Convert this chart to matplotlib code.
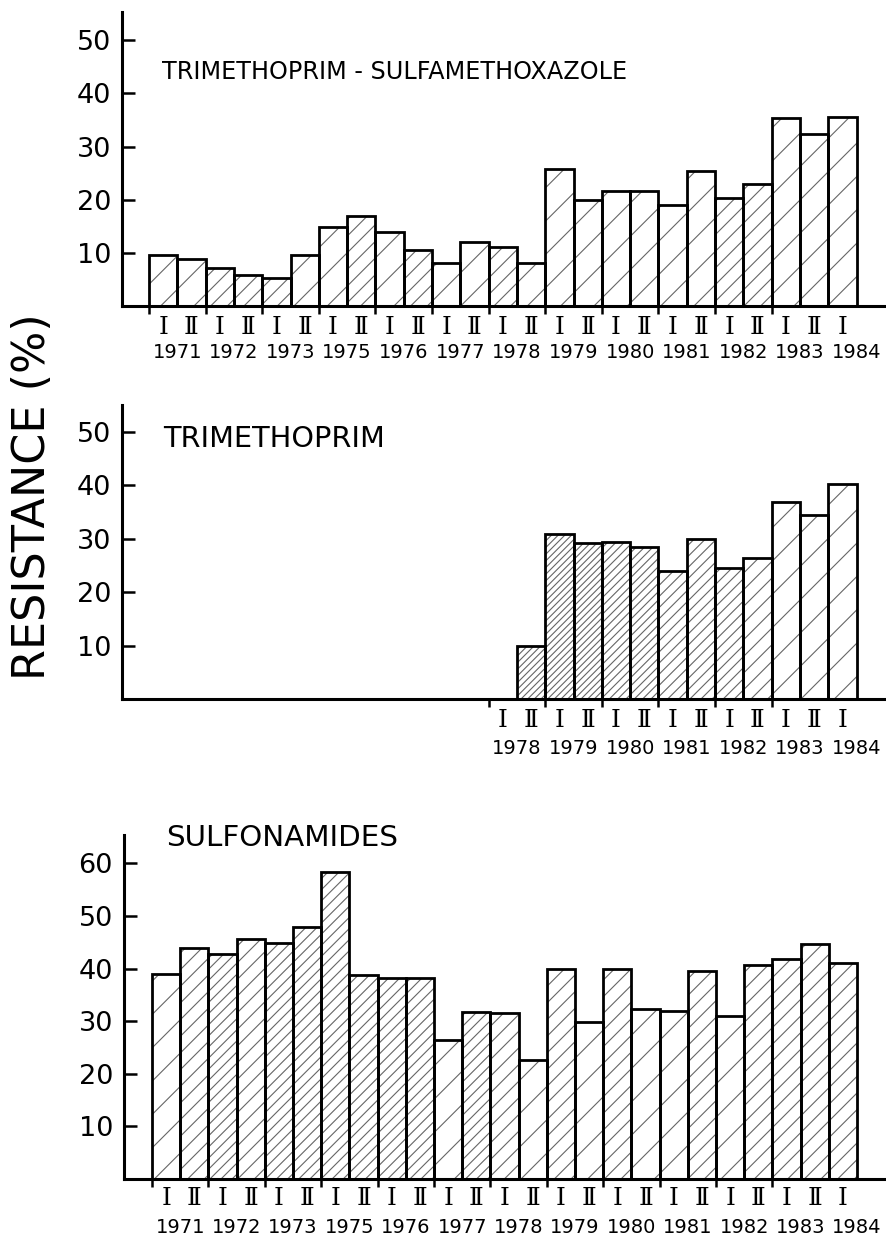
import numpy as np
import matplotlib.pyplot as plt
from matplotlib.transforms import blended_transform_factory

plt.rcParams['font.family'] = ['DejaVu Sans']
plt.rcParams['hatch.linewidth'] = 0.8

# half-year periods, 1971 I .. 1984 I (no 1974)
years = ['1971', '1972', '1973', '1975', '1976', '1977', '1978',
         '1979', '1980', '1981', '1982', '1983', '1984']
halves = ['Ⅰ', 'Ⅱ'] * 12 + ['Ⅰ']

# resistance (%)
sxt = [9.6, 8.8, 7.1, 5.9, 5.3, 9.6, 14.8, 17.0, 13.9, 10.6, 8.1, 12.0, 11.1,
       8.0, 25.8, 20.0, 21.7, 21.7, 19.0, 25.4, 20.3, 23.0, 35.4, 32.4, 35.6]
tmp_first = 13   # trimethoprim data start at 1978 II
tmp = [10.0, 30.8, 29.1, 29.3, 28.5, 24.0, 30.0, 24.5, 26.3, 36.9, 34.5, 40.2]
sulfa = [39.0, 44.0, 42.7, 45.6, 44.8, 47.9, 58.4, 38.7, 38.3, 38.3, 26.4, 31.8,
         31.5, 22.6, 40.0, 29.8, 40.0, 32.4, 31.9, 39.5, 31.0, 40.6, 41.9, 44.6, 41.0]

titles = ['TRIMETHOPRIM - SULFAMETHOXAZOLE', 'TRIMETHOPRIM', 'SULFONAMIDES']

# hatch density per bar (scanned shading varies)
hatch_top = ['/', '/', '//', '//', '//', '/', '/', '//', '/', '//', '/', '/', '//',
             '/', '/', '/', '/', '/', '/', '/', '//', '//', '/', '/', '/']
hatch_mid = ['/////', '/////', '/////', '////', '////', '///', '///', '///',
             '//', '/', '/', '/']
hatch_bot = ['/', '//', '///', '//', '///', '///', '///', '///', '///', '///',
             '/', '///', '//', '/', '//', '/', '//', '/', '/', '//', '/', '//',
             '//', '//', '//']

W, H = 886, 1237
fig = plt.figure(figsize=(W / 100, H / 100), dpi=100)


def make_axes(left, top, bottom, bar0, step, ymax):
    ax = fig.add_axes([left / W, (H - bottom) / H, (884 - left) / W, (bottom - top) / H])
    ax.set_xlim(-0.5 - (bar0 - left) / step, -0.5 + (884 - bar0) / step)
    ax.set_ylim(0, ymax)
    for s in ['top', 'right']:
        ax.spines[s].set_visible(False)
    for s in ['left', 'bottom']:
        ax.spines[s].set_linewidth(2.2)
        ax.spines[s].set_capstyle('projecting')
    ax.tick_params(axis='y', direction='in', length=9, width=1.8, labelsize=19.5, pad=8)
    ax.tick_params(axis='x', direction='out', length=6, width=1.8, labelbottom=False)
    return ax


def draw_bars(ax, x, vals, hatches):
    ax.bar(x, vals, width=1.0, color='white', linewidth=0, zorder=1)
    for xi, v, h in zip(x, vals, hatches):
        ax.bar(xi, v, width=1.0, color='none', edgecolor='0.4', linewidth=0,
               hatch=h, zorder=2)
    ax.bar(x, vals, width=1.0, color='none', edgecolor='black', linewidth=2.0, zorder=3)


def period_labels(ax, first, y_half, y_year):
    tr = blended_transform_factory(ax.transData, ax.transAxes)
    for i in range(first, len(halves)):
        ax.text(i, y_half, halves[i], transform=tr, ha='center', va='center',
                fontsize=18, family=['DejaVu Serif', 'DejaVu Sans'])
    for k in range(first // 2, len(years)):
        ax.text(2 * k + 0.5, y_year, years[k], transform=tr, ha='center',
                va='center', fontsize=14)
    ax.set_xticks(np.arange(2 * (first // 2), 24, 2) - 0.5)


# top: trimethoprim-sulfamethoxazole
ax1 = make_axes(122, 12, 306, 149, 28.3, 55.3)
x_all = np.arange(len(sxt))
draw_bars(ax1, x_all, sxt, hatch_top)
ax1.set_yticks([10, 20, 30, 40, 50])
period_labels(ax1, 0, -0.072, -0.157)
ax1.text(0.053, 0.795, titles[0], transform=ax1.transAxes, fontsize=17.2,
         va='center', ha='left')

# middle: trimethoprim
ax2 = make_axes(122, 405, 699, 149, 28.3, 55.0)
x_tmp = np.arange(tmp_first, tmp_first + len(tmp))
draw_bars(ax2, x_tmp, tmp, hatch_mid)
ax2.set_yticks([10, 20, 30, 40, 50])
period_labels(ax2, 12, -0.072, -0.167)
ax2.text(0.054, 0.883, titles[1], transform=ax2.transAxes, fontsize=20.7,
         va='center', ha='left')

# bottom: sulfonamides
ax3 = make_axes(124, 835, 1179, 152, 28.2, 65.4)
draw_bars(ax3, np.arange(len(sulfa)), sulfa, hatch_bot)
ax3.set_yticks([10, 20, 30, 40, 50, 60])
period_labels(ax3, 0, -0.056, -0.14)
ax3.text(0.056, 0.99, titles[2], transform=ax3.transAxes, fontsize=21.2,
         va='center', ha='left', clip_on=False)

fig.text(33 / W, (H - 497) / H, 'RESISTANCE (%)', rotation=90, fontsize=32,
         ha='center', va='center')

fig.savefig('out.png', dpi=100)
